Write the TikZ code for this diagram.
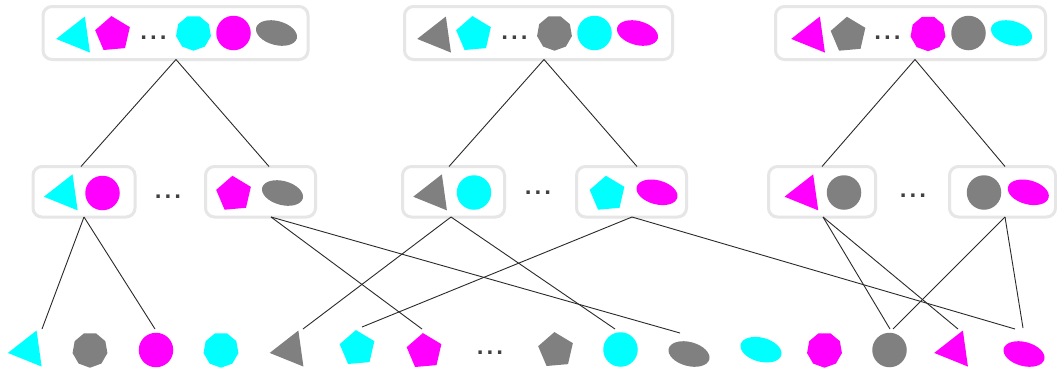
\documentclass[tikz,border=0pt]{standalone}
\usepackage{fontspec}
\newfontfamily\dejavu{DejaVu Sans}
\usetikzlibrary{shapes.geometric}
\definecolor{cy}{HTML}{00FFFF}
\definecolor{mg}{HTML}{FF00FF}
\definecolor{gr}{HTML}{808080}
\definecolor{boxc}{HTML}{E6E6E6}
\definecolor{dotc}{HTML}{404040}
\definecolor{linec}{HTML}{2A2A2A}
\newcommand{\mydots}{.\kern2.6pt.\kern2.6pt.}
\begin{document}
\begin{tikzpicture}[x=1pt,y=-1pt,
  grp/.style={draw=boxc, line width=3pt, rounded corners=9pt, fill=white, inner sep=0pt, outer sep=0pt, minimum height=53pt},
  grpb/.style={grp, minimum height=50.5pt},
  tri/.style={regular polygon, regular polygon sides=3, minimum size=42pt, shape border rotate=98, inner sep=0pt, outer sep=0pt},
  pent/.style={regular polygon, regular polygon sides=5, minimum size=36.6pt, shape border rotate=5, inner sep=0pt, outer sep=0pt},
  nona/.style={regular polygon, regular polygon sides=9, minimum size=35.4pt, shape border rotate=20, inner sep=0pt, outer sep=0pt},
  circ/.style={circle, minimum size=34.5pt, inner sep=0pt, outer sep=0pt},
  ell/.style={ellipse, minimum width=42pt, minimum height=24pt, inner sep=0pt, outer sep=0pt, rotate=-15},
  dots/.style={font=\dejavu\bfseries\fontsize{19}{19}\selectfont, text=dotc, anchor=base, inner sep=0pt},
  link/.style={draw=linec, line width=0.9pt}
]
\fill[white] (0,0) rectangle (1057,370);
\useasboundingbox (0,0) rectangle (1057,370);

% top groups
\node[grp, minimum width=265pt] (T1) at (175.5,33) {};
\node[grp, minimum width=268pt] (T2) at (538.5,33) {};
\node[grp, minimum width=270pt] (T3) at (910.5,33) {};

\node[tri, fill=cy] (t1a) at (77,36) {};
\node[pent, fill=mg] (t1b) at (113,34.3) {};
\node[dots] (t1d) at (153.5,39) {\mydots};
\node[nona, fill=cy] (t1c) at (193.5,33) {};
\node[circ, fill=mg] (t1e) at (233.5,33) {};
\node[ell, fill=gr] (t1f) at (276.5,33) {};

\node[tri, fill=gr] (t2a) at (438,36) {};
\node[pent, fill=cy] (t2b) at (474,34.3) {};
\node[dots] (t2d) at (514.5,39) {\mydots};
\node[nona, fill=gr] (t2c) at (554.5,33) {};
\node[circ, fill=cy] (t2e) at (594.5,33) {};
\node[ell, fill=mg] (t2f) at (637.5,33) {};

\node[tri, fill=mg] (t3a) at (812,36) {};
\node[pent, fill=gr] (t3b) at (848.5,35) {};
\node[dots] (t3d) at (887.5,39.6) {\mydots};
\node[nona, fill=mg] (t3c) at (928,33.5) {};
\node[circ, fill=gr] (t3e) at (968.5,33) {};
\node[ell, fill=cy] (t3f) at (1011.5,33) {};

% middle groups
\node[grpb, minimum width=102pt] (A) at (84,191.75) {};
\node[grpb, minimum width=110pt] (B) at (260.5,191.75) {};
\node[grpb, minimum width=102pt] (C) at (453.5,191.75) {};
\node[grpb, minimum width=110pt] (D) at (631.5,191.75) {};
\node[grpb, minimum width=107pt] (E) at (822,191.75) {};
\node[grpb, minimum width=106pt] (F) at (1002.5,191.75) {};

\node[tri, fill=cy] (a1) at (64.7,193.8) {};
\node[circ, fill=mg] (a2) at (102.5,193) {};
\node[dots] (m1d) at (168,198.7) {\mydots};
\node[pent, fill=mg] (bb1) at (234,194) {};
\node[ell, fill=gr] (bb2) at (282.5,193) {};

\node[tri, fill=gr] (c1) at (434,193.8) {};
\node[circ, fill=cy] (c2) at (474,192.5) {};
\node[dots] (m2d) at (538,194.7) {\mydots};
\node[pent, fill=cy] (d1) at (607.5,194) {};
\node[ell, fill=mg] (d2) at (657,192.3) {};

\node[tri, fill=mg] (e1) at (805.3,193.8) {};
\node[circ, fill=gr] (e2) at (844,192.5) {};
\node[dots] (m3d) at (913,197.7) {\mydots};
\node[circ, fill=gr] (f1) at (984,192.5) {};
\node[ell, fill=mg] (f2) at (1028.3,192.3) {};

% bottom row
\node[tri, fill=cy] (b1) at (28.7,350) {};
\node[nona, fill=gr] (b2) at (90,350) {};
\node[circ, fill=mg] (b3) at (156,350) {};
\node[nona, fill=cy] (b4) at (221,350) {};
\node[tri, fill=gr] (b5) at (290.5,350) {};
\node[pent, fill=cy] (b6) at (357.5,348.3) {};
\node[pent, fill=mg] (b7) at (424.5,351.3) {};
\node[dots] (bd) at (490,354.3) {\mydots};
\node[pent, fill=gr] (b9) at (556,350.3) {};
\node[circ, fill=cy] (b10) at (620.5,349.5) {};
\node[ell, fill=gr] (b11) at (689,354) {};
\node[ell, fill=cy] (b12) at (761,349.7) {};
\node[nona, fill=mg] (b13) at (824.5,350) {};
\node[circ, fill=gr] (b14) at (889.5,350) {};
\node[tri, fill=mg] (b15) at (955,350) {};
\node[ell, fill=mg] (b16) at (1024,354) {};

% connectors top -> middle
\draw[link] ([xshift=0.5pt]T1.south) -- ([xshift=-3pt]A.north);
\draw[link] ([xshift=0.5pt]T1.south) -- ([xshift=8.5pt]B.north);
\draw[link] ([xshift=5.5pt]T2.south) -- ([xshift=-4.5pt]C.north);
\draw[link] ([xshift=5.5pt]T2.south) -- ([xshift=5.5pt]D.north);
\draw[link] ([xshift=4.5pt]T3.south) -- (E.north);
\draw[link] ([xshift=4.5pt]T3.south) -- ([xshift=2.5pt]F.north);

% connectors middle -> bottom
\draw[link] (A.south) -- ([shift={(13.3,-21)}]b1.center);
\draw[link] (A.south) -- ([shift={(-1,-21)}]b3.center);
\draw[link] ([xshift=10.5pt]B.south) -- ([shift={(-2.5,-22.3)}]b7.center);
\draw[link] ([xshift=10.5pt]B.south) -- ([shift={(-9,-21)}]b11.center);
\draw[link] ([xshift=-2.5pt]C.south) -- ([shift={(12.5,-21)}]b5.center);
\draw[link] ([xshift=-2.5pt]C.south) -- ([shift={(-5.5,-20.5)}]b10.center);
\draw[link] ([xshift=0.5pt]D.south) -- ([shift={(4.5,-21.3)}]b6.center);
\draw[link] ([xshift=0.5pt]D.south) -- ([shift={(-9,-25)}]b16.center);
\draw[link] ([xshift=1pt]E.south) -- ([shift={(0.5,-21)}]b14.center);
\draw[link] ([xshift=1pt]E.south) -- ([shift={(3,-21)}]b15.center);
\draw[link] ([xshift=2.5pt]F.south) -- ([shift={(3.5,-21)}]b14.center);
\draw[link] ([xshift=2.5pt]F.south) -- ([shift={(-1,-26)}]b16.center);
\end{tikzpicture}
\end{document}
